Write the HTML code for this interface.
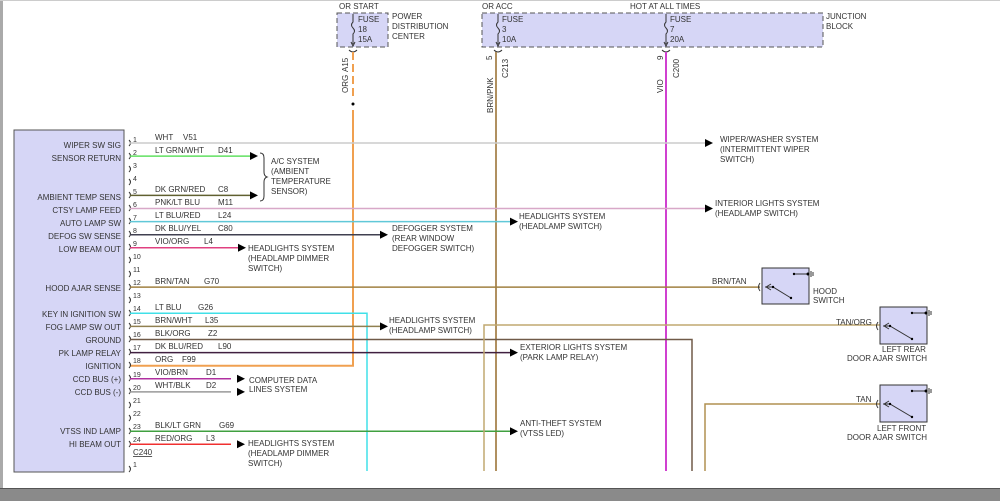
<!DOCTYPE html>
<html><head><meta charset="utf-8"><style>
html,body{margin:0;padding:0;background:#fff;}
svg{display:block;font-family:"Liberation Sans",sans-serif;}
text{font-size:8px;fill:#333;}
.r{text-anchor:end;}
.p{font-size:7px;}
</style></head><body>
<svg width="1000" height="501" viewBox="0 0 1000 501" xmlns="http://www.w3.org/2000/svg">
<rect x="0" y="0" width="1000" height="501" fill="#fff"/>
<line x1="1.5" y1="0" x2="1.5" y2="489" stroke="#aaa" stroke-width="3"/>
<line x1="0" y1="0.5" x2="1000" y2="0.5" stroke="#ccc"/>
<rect x="0" y="488" width="1000" height="13" fill="#8a8a8a"/>
<line x1="0" y1="488.5" x2="1000" y2="488.5" stroke="#555"/>

<!-- fuse boxes -->
<rect x="337" y="13" width="51" height="34" fill="#d6d6f6" stroke="#555" stroke-dasharray="5,3"/>
<rect x="482" y="13" width="341" height="34" fill="#d6d6f6" stroke="#555" stroke-dasharray="5,3"/>
<text x="339" y="9">OR START</text>
<text x="482" y="9">OR ACC</text>
<text x="630" y="9">HOT AT ALL TIMES</text>
<text x="358" y="22">FUSE</text><text x="358" y="32">18</text><text x="358" y="42">15A</text>
<text x="392" y="19">POWER</text><text x="392" y="29">DISTRIBUTION</text><text x="392" y="39">CENTER</text>
<text x="502" y="22">FUSE</text><text x="502" y="32">3</text><text x="502" y="42">10A</text>
<text x="670" y="22">FUSE</text><text x="670" y="32">7</text><text x="670" y="42">20A</text>
<text x="826" y="19">JUNCTION</text><text x="826" y="29">BLOCK</text>
<path d="M353 14 v8 q-3 3 0 6 q3 3 0 6 v10 M351 42 l2 4 l2 -4" stroke="#333" fill="none"/>
<path d="M498 14 v8 q-3 3 0 6 q3 3 0 6 v10 M496 42 l2 4 l2 -4" stroke="#333" fill="none"/>
<path d="M666 14 v8 q-3 3 0 6 q3 3 0 6 v10 M664 42 l2 4 l2 -4" stroke="#333" fill="none"/>
<path d="M349 50 q4 4 8 0 M494 50 q4 4 8 0 M662 50 q4 4 8 0" stroke="#333" fill="none"/>

<!-- verticals -->
<line x1="353" y1="52" x2="353" y2="100" stroke="#f0a050" stroke-width="2" stroke-dasharray="8,4"/>
<circle cx="353" cy="104" r="1.5" fill="#000"/>
<path d="M353 110 V365.7 H130" stroke="#f0a050" stroke-width="2" fill="none"/>
<line x1="496" y1="52" x2="496" y2="471" stroke="#b09060" stroke-width="2"/>
<line x1="666" y1="52" x2="666" y2="471" stroke="#d040d0" stroke-width="2"/>
<text transform="translate(348,72) rotate(-90)">A15</text>
<text transform="translate(348,93) rotate(-90)">ORG</text>
<text transform="translate(492,60) rotate(-90)">5</text>
<text transform="translate(508,78) rotate(-90)">C213</text>
<text transform="translate(493,113) rotate(-90)">BRN/PNK</text>
<text transform="translate(663,60) rotate(-90)">9</text>
<text transform="translate(679,78) rotate(-90)">C200</text>
<text transform="translate(663,93) rotate(-90)">VIO</text>

<!-- module box -->
<rect x="14" y="130" width="110" height="342" fill="#d6d6f6" stroke="#555"/>
<g class="r">
<text class="r" x="121" y="148">WIPER SW SIG</text>
<text class="r" x="121" y="161">SENSOR RETURN</text>
<text class="r" x="121" y="200">AMBIENT TEMP SENS</text>
<text class="r" x="121" y="213">CTSY LAMP FEED</text>
<text class="r" x="121" y="226">AUTO LAMP SW</text>
<text class="r" x="121" y="239">DEFOG SW SENSE</text>
<text class="r" x="121" y="252">LOW BEAM OUT</text>
<text class="r" x="121" y="291">HOOD AJAR SENSE</text>
<text class="r" x="121" y="317">KEY IN IGNITION SW</text>
<text class="r" x="121" y="330">FOG LAMP SW OUT</text>
<text class="r" x="121" y="343">GROUND</text>
<text class="r" x="121" y="356">PK LAMP RELAY</text>
<text class="r" x="121" y="369">IGNITION</text>
<text class="r" x="121" y="382">CCD BUS (+)</text>
<text class="r" x="121" y="395">CCD BUS (-)</text>
<text class="r" x="121" y="434">VTSS IND LAMP</text>
<text class="r" x="121" y="447">HI BEAM OUT</text>
</g>

<!-- pin connectors and numbers -->
<g stroke="#333" fill="none">
<path d="M129 140 q3 3 0 6 M129 153 q3 3 0 6 M129 166 q3 3 0 6 M129 179 q3 3 0 6 M129 192 q3 3 0 6 M129 205 q3 3 0 6 M129 218 q3 3 0 6 M129 231 q3 3 0 6 M129 244 q3 3 0 6 M129 257 q3 3 0 6 M129 271 q3 3 0 6 M129 284 q3 3 0 6 M129 297 q3 3 0 6 M129 310 q3 3 0 6 M129 323 q3 3 0 6 M129 336 q3 3 0 6 M129 349 q3 3 0 6 M129 362 q3 3 0 6 M129 375 q3 3 0 6 M129 388 q3 3 0 6 M129 402 q3 3 0 6 M129 415 q3 3 0 6 M129 428 q3 3 0 6 M129 441 q3 3 0 6 M129 466 q3 3 0 6"/>
</g>
<g class="p">
<text class="p" x="133" y="142">1</text><text class="p" x="133" y="155">2</text><text class="p" x="133" y="168">3</text><text class="p" x="133" y="181">4</text>
<text class="p" x="133" y="194">5</text><text class="p" x="133" y="207">6</text><text class="p" x="133" y="220">7</text><text class="p" x="133" y="233">8</text>
<text class="p" x="133" y="246">9</text><text class="p" x="133" y="259">10</text><text class="p" x="133" y="272">11</text><text class="p" x="133" y="285">12</text>
<text class="p" x="133" y="298">13</text><text class="p" x="133" y="311">14</text><text class="p" x="133" y="324">15</text><text class="p" x="133" y="337">16</text>
<text class="p" x="133" y="350">17</text><text class="p" x="133" y="363">18</text><text class="p" x="133" y="377">19</text><text class="p" x="133" y="390">20</text>
<text class="p" x="133" y="403">21</text><text class="p" x="133" y="416">22</text><text class="p" x="133" y="429">23</text><text class="p" x="133" y="442">24</text>
<text class="p" x="133" y="467">1</text>
</g>
<text x="133" y="455" text-decoration="underline">C240</text>

<!-- wires -->
<g fill="none" stroke-width="1.5">
<line x1="130" y1="143" x2="706" y2="143" stroke="#ccc"/>
<line x1="130" y1="156.1" x2="251" y2="156.1" stroke="#60e060"/>
<line x1="130" y1="195.4" x2="251" y2="195.4" stroke="#606030"/>
<line x1="130" y1="208.5" x2="706" y2="208.5" stroke="#d8a8c8"/>
<line x1="130" y1="221.6" x2="511" y2="221.6" stroke="#60c8d8"/>
<line x1="130" y1="234.7" x2="381" y2="234.7" stroke="#404050"/>
<line x1="130" y1="247.8" x2="239" y2="247.8" stroke="#e04080"/>
<line x1="130" y1="287.1" x2="760" y2="287.1" stroke="#a08040"/>
<path d="M130 313.3 H367 V471" stroke="#40e0e8"/>
<line x1="130" y1="326.4" x2="381" y2="326.4" stroke="#908050"/>
<path d="M130 339.5 H692 V471" stroke="#705a48"/>
<line x1="130" y1="352.6" x2="511" y2="352.6" stroke="#402040"/>
<line x1="130" y1="378.8" x2="231" y2="378.8" stroke="#b030a0"/>
<line x1="130" y1="391.9" x2="231" y2="391.9" stroke="#999"/>
<line x1="130" y1="431.2" x2="511" y2="431.2" stroke="#40a040"/>
<line x1="130" y1="444.3" x2="231" y2="444.3" stroke="#f03030"/>
<path d="M484 471 V325 H880" stroke="#c0a870"/>
<path d="M705 471 V404 H880" stroke="#b09050"/>
</g>

<!-- wire labels -->
<text x="155" y="140">WHT</text><text x="183" y="140">V51</text>
<text x="155" y="153">LT GRN/WHT</text><text x="218" y="153">D41</text>
<text x="155" y="192">DK GRN/RED</text><text x="218" y="192">C8</text>
<text x="155" y="205">PNK/LT BLU</text><text x="218" y="205">M11</text>
<text x="155" y="218">LT BLU/RED</text><text x="218" y="218">L24</text>
<text x="155" y="231">DK BLU/YEL</text><text x="218" y="231">C80</text>
<text x="155" y="244">VIO/ORG</text><text x="204" y="244">L4</text>
<text x="155" y="284">BRN/TAN</text><text x="204" y="284">G70</text>
<text x="155" y="310">LT BLU</text><text x="198" y="310">G26</text>
<text x="155" y="323">BRN/WHT</text><text x="205" y="323">L35</text>
<text x="155" y="336">BLK/ORG</text><text x="208" y="336">Z2</text>
<text x="155" y="349">DK BLU/RED</text><text x="218" y="349">L90</text>
<text x="155" y="362">ORG</text><text x="182" y="362">F99</text>
<text x="155" y="375">VIO/BRN</text><text x="206" y="375">D1</text>
<text x="155" y="388">WHT/BLK</text><text x="206" y="388">D2</text>
<text x="155" y="428">BLK/LT GRN</text><text x="219" y="428">G69</text>
<text x="155" y="441">RED/ORG</text><text x="206" y="441">L3</text>

<!-- arrows -->
<g fill="#000">
<path d="M705 139 l8 4 l-8 4z"/>
<path d="M250 152 l8 4 l-8 4z"/>
<path d="M250 191.4 l8 4 l-8 4z"/>
<path d="M705 204.5 l8 4 l-8 4z"/>
<path d="M510 217.6 l8 4 l-8 4z"/>
<path d="M380 230.7 l8 4 l-8 4z"/>
<path d="M238 243.8 l8 4 l-8 4z"/>
<path d="M380 322.4 l8 4 l-8 4z"/>
<path d="M510 348.6 l8 4 l-8 4z"/>
<path d="M237 374.8 l8 4 l-8 4z"/>
<path d="M237 387.9 l8 4 l-8 4z"/>
<path d="M510 427.2 l8 4 l-8 4z"/>
<path d="M237 440.3 l8 4 l-8 4z"/>
</g>
<path d="M260 153 q4 0 4 5 v14 q0 4 3 5 q-3 1 -3 5 v14 q0 5 -4 5" stroke="#333" fill="none"/>

<!-- destination texts -->
<text x="720" y="142">WIPER/WASHER SYSTEM</text><text x="720" y="152">(INTERMITTENT WIPER</text><text x="720" y="162">SWITCH)</text>
<text x="271" y="164">A/C SYSTEM</text><text x="271" y="174">(AMBIENT</text><text x="271" y="184">TEMPERATURE</text><text x="271" y="194">SENSOR)</text>
<text x="715" y="206">INTERIOR LIGHTS SYSTEM</text><text x="715" y="216">(HEADLAMP SWITCH)</text>
<text x="519" y="219">HEADLIGHTS SYSTEM</text><text x="519" y="229">(HEADLAMP SWITCH)</text>
<text x="392" y="231">DEFOGGER SYSTEM</text><text x="392" y="241">(REAR WINDOW</text><text x="392" y="251">DEFOGGER SWITCH)</text>
<text x="248" y="251">HEADLIGHTS SYSTEM</text><text x="248" y="261">(HEADLAMP DIMMER</text><text x="248" y="271">SWITCH)</text>
<text x="389" y="323">HEADLIGHTS SYSTEM</text><text x="389" y="333">(HEADLAMP SWITCH)</text>
<text x="520" y="350">EXTERIOR LIGHTS SYSTEM</text><text x="520" y="360">(PARK LAMP RELAY)</text>
<text x="249" y="383">COMPUTER DATA</text><text x="249" y="392">LINES SYSTEM</text>
<text x="520" y="426">ANTI-THEFT SYSTEM</text><text x="520" y="436">(VTSS LED)</text>
<text x="248" y="446">HEADLIGHTS SYSTEM</text><text x="248" y="456">(HEADLAMP DIMMER</text><text x="248" y="466">SWITCH)</text>

<!-- switches -->
<text x="712" y="284">BRN/TAN</text>
<text x="836" y="325">TAN/ORG</text>
<text x="856" y="402">TAN</text>
<g stroke="#333" fill="none">
<rect x="762" y="268" width="47" height="36" fill="#d6d6f6"/>
<path d="M760 283 q-3 4 0 8 M766 287 l5 -3 M766 287 l5 3 M765 287 h8 l18 11 M794 274 h15 M811 271 v6 M813 272 v4"/>
<rect x="880" y="307" width="47" height="37" fill="#d6d6f6"/>
<path d="M878 322 q-3 4 0 8 M884 326 l5 -3 M884 326 l5 3 M883 326 h7 l22 13 M912 313 h15 M929 310 v6 M931 311 v4"/>
<rect x="880" y="385" width="47" height="37" fill="#d6d6f6"/>
<path d="M878 400 q-3 4 0 8 M884 404 l5 -3 M884 404 l5 3 M883 404 h7 l22 13 M912 391 h15 M929 388 v6 M931 389 v4"/>
</g>
<g fill="#000">
<circle cx="773" cy="287" r="1.2"/><circle cx="791" cy="298" r="1.2"/><circle cx="794" cy="274" r="1.2"/><circle cx="808" cy="274" r="1.5"/>
<circle cx="890" cy="326" r="1.2"/><circle cx="912" cy="339" r="1.2"/><circle cx="912" cy="313" r="1.2"/><circle cx="926" cy="313" r="1.5"/>
<circle cx="890" cy="404" r="1.2"/><circle cx="912" cy="417" r="1.2"/><circle cx="912" cy="391" r="1.2"/><circle cx="926" cy="391" r="1.5"/>
</g>
<text x="813" y="294">HOOD</text><text x="813" y="303">SWITCH</text>
<text x="882" y="352">LEFT REAR</text><text x="847" y="361">DOOR AJAR SWITCH</text>
<text x="877" y="431">LEFT FRONT</text><text x="847" y="440">DOOR AJAR SWITCH</text>
</svg>
</body></html>
